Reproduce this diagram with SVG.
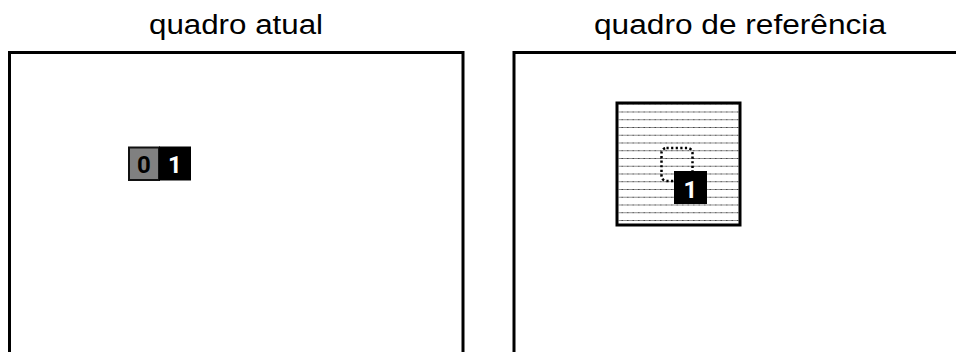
<svg xmlns="http://www.w3.org/2000/svg" width="956" height="352" viewBox="0 0 956 352">
  <style>
    .title { font-family: "Liberation Sans", Arial, sans-serif; font-size: 27px; fill: #000; text-anchor: middle; }
    .frame { fill: #fff; stroke: #000; stroke-width: 3; }
    .digit { font-family: Roboto, "Liberation Sans", Arial, sans-serif; font-weight: 700; font-size: 24px; text-anchor: middle; }
    .hatch { stroke: #8c8c8c; stroke-width: 1.7; }
    .hatch-dots { stroke: #444; stroke-width: 1.7; stroke-dasharray: 1.5 4; }
  </style>
  <defs>
    <pattern id="hatchPattern" x="0" y="111.5" width="110" height="7.75" patternUnits="userSpaceOnUse">
      <line class="hatch" x1="0" y1="0" x2="110" y2="0"/>
      <line class="hatch-dots" x1="0" y1="0" x2="110" y2="0"/>
    </pattern>
  </defs>

  <!-- current frame -->
  <g id="current-frame">
    <text class="title" x="236" y="34" textLength="174" lengthAdjust="spacingAndGlyphs">quadro atual</text>
    <rect class="frame" x="9.5" y="52.5" width="453.5" height="320"/>
    <g id="block-0">
      <rect x="129" y="147.5" width="30" height="32.5" fill="#808080" stroke="#111" stroke-width="2"/>
      <text class="digit" x="144" y="173" fill="#000">0</text>
    </g>
    <g id="block-1">
      <rect x="159" y="146.5" width="32" height="34" fill="#000"/>
      <text class="digit" x="175" y="173" fill="#fff">1</text>
    </g>
  </g>

  <!-- reference frame -->
  <g id="reference-frame">
    <text class="title" x="740" y="34" textLength="292" lengthAdjust="spacingAndGlyphs">quadro de referência</text>
    <rect class="frame" x="514" y="52.5" width="453.5" height="320"/>
    <g id="search-area">
      <rect x="617" y="103" width="123" height="122" fill="#fff"/>
      <rect x="618.5" y="104.5" width="120" height="119" fill="url(#hatchPattern)"/>
      <rect x="617" y="103" width="123" height="122" fill="none" stroke="#000" stroke-width="3"/>
    </g>
    <g id="previous-position">
      <rect x="661.5" y="148" width="31" height="33" rx="5" fill="none" stroke="#000" stroke-width="2.5" stroke-dasharray="2.2 2.4"/>
    </g>
    <g id="matched-block">
      <rect x="674" y="171" width="33" height="33" fill="#000"/>
      <text class="digit" x="690.5" y="198" fill="#fff">1</text>
    </g>
  </g>
</svg>
